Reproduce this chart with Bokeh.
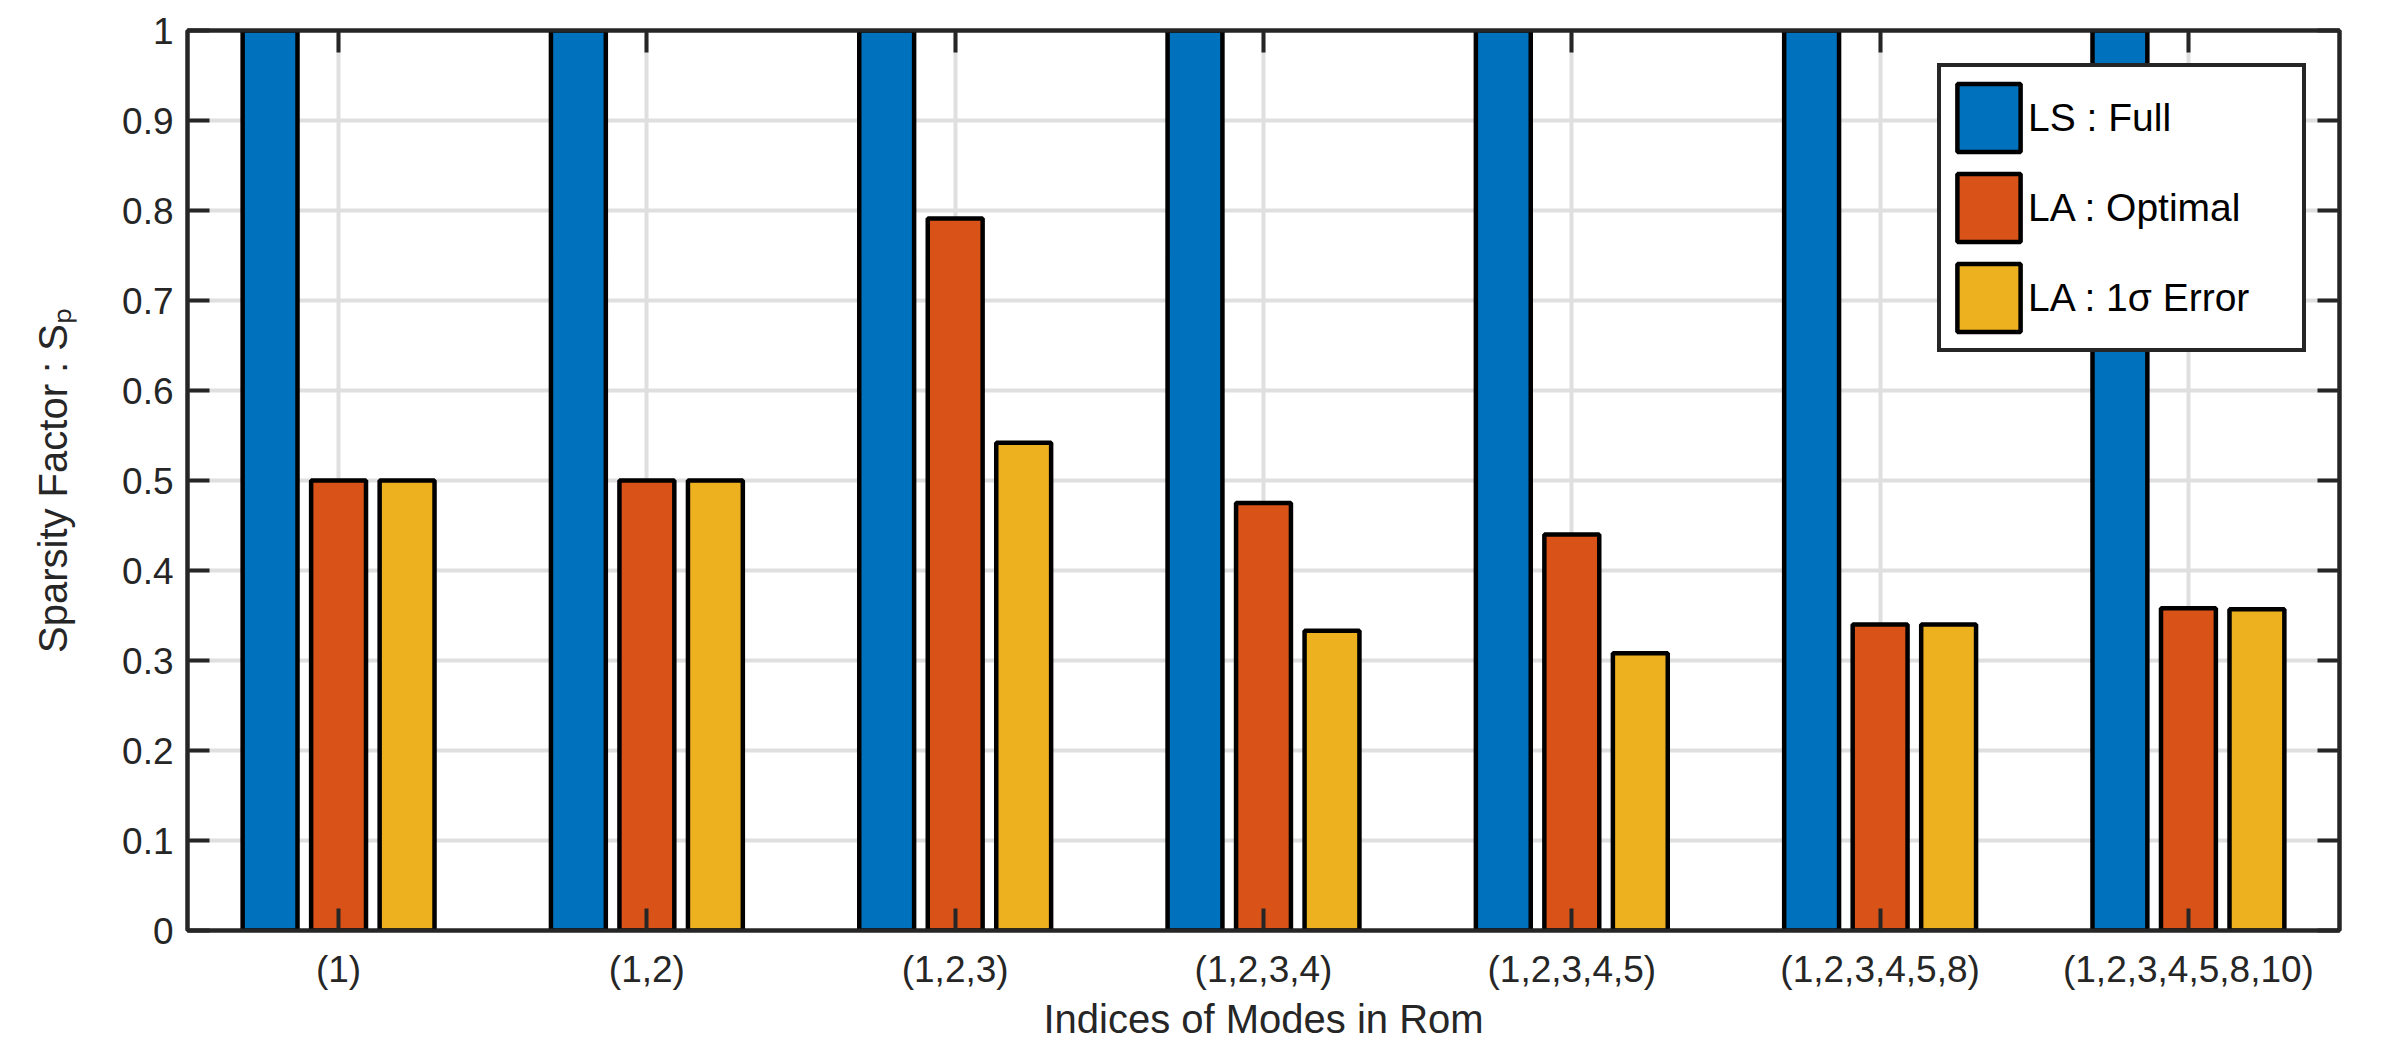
from bokeh.plotting import figure
from bokeh.models import (ColumnDataSource, FixedTicker, LinearAxis, Range1d,
                          Legend, LegendItem)
from bokeh.transform import dodge
from bokeh.embed import file_html
from bokeh.resources import INLINE

# ---------------- data ----------------
categories = ["(1)", "(1,2)", "(1,2,3)", "(1,2,3,4)", "(1,2,3,4,5)",
              "(1,2,3,4,5,8)", "(1,2,3,4,5,8,10)"]
group_index = [1, 2, 3, 4, 5, 6, 7]
ls_full = [1.0, 1.0, 1.0, 1.0, 1.0, 1.0, 1.0]
la_optimal = [0.500, 0.500, 0.791, 0.475, 0.440, 0.340, 0.358]
la_1sigma = [0.500, 0.500, 0.542, 0.333, 0.308, 0.340, 0.357]
series_names = ["LS : Full", "LA : Optimal", "LA : 1\u03c3 Error"]
y_ticks = [0, 0.1, 0.2, 0.3, 0.4, 0.5, 0.6, 0.7, 0.8, 0.9, 1.0]
y_tick_labels = ["0", "0.1", "0.2", "0.3", "0.4", "0.5", "0.6", "0.7", "0.8", "0.9", "1"]
x_label = "Indices of Modes in Rom"
y_label = "Sparsity Factor : S\u209a"

# ---------------- style ----------------
colors = ["#0072BD", "#D95319", "#EDB120"]
axis_col = "#262626"
grid_col = "#dfdfdf"
FONT = "Liberation Sans"

src = ColumnDataSource(dict(idx=group_index, ls=ls_full, opt=la_optimal, sig=la_1sigma))

p = figure(width=2379, height=1048, output_backend="svg", toolbar_location=None,
           x_range=Range1d(0.51, 7.49), y_range=Range1d(0, 1),
           min_border_left=187, min_border_top=30, min_border_right=40,
           min_border_bottom=118, x_axis_location=None, y_axis_location=None)
p.background_fill_color = "white"
p.border_fill_color = "white"
p.outline_line_color = axis_col
p.outline_line_width = 4

# grids
p.xgrid.ticker = FixedTicker(ticks=group_index)
p.ygrid.ticker = FixedTicker(ticks=y_ticks)
for g in (p.xgrid, p.ygrid):
    g.grid_line_color = grid_col
    g.grid_line_width = 4

def style_axis(ax):
    ax.axis_line_color = axis_col
    ax.axis_line_width = 4
    ax.major_tick_line_color = axis_col
    ax.major_tick_line_width = 4
    ax.major_tick_in = 22
    ax.major_tick_out = 0
    ax.minor_tick_line_color = None
    ax.major_label_text_color = axis_col
    ax.major_label_text_font = FONT
    ax.major_label_text_font_size = "37px"
    ax.axis_label_text_font = FONT
    ax.axis_label_text_font_style = "normal"
    ax.axis_label_text_color = axis_col
    ax.axis_label_text_font_size = "40px"

xlabels = {i: c for i, c in zip(group_index, categories)}
ylabels = {t: l for t, l in zip(y_ticks, y_tick_labels)}

xb = LinearAxis(ticker=FixedTicker(ticks=group_index), major_label_overrides=xlabels,
                axis_label=x_label)
style_axis(xb)
xb.major_label_standoff = 18
xb.axis_label_standoff = 4
p.add_layout(xb, "below")

yl = LinearAxis(ticker=FixedTicker(ticks=y_ticks), major_label_overrides=ylabels,
                axis_label=y_label)
style_axis(yl)
yl.major_label_standoff = 14
yl.axis_label_standoff = 44
p.add_layout(yl, "left")

# box-side tick axes without labels
xt = LinearAxis(ticker=FixedTicker(ticks=group_index),
                major_label_overrides={i: "" for i in group_index})
style_axis(xt)
xt.major_label_standoff = 0
p.add_layout(xt, "above")

yr = LinearAxis(ticker=FixedTicker(ticks=y_ticks),
                major_label_overrides={t: "" for t in y_ticks})
style_axis(yr)
yr.major_label_standoff = 0
p.add_layout(yr, "right")

# bars
offset = 0.2222
bw = 0.178
r1 = p.vbar(x=dodge("idx", -offset, range=p.x_range), top="ls", width=bw, source=src,
            fill_color=colors[0], line_color="black", line_width=4.5)
r2 = p.vbar(x=dodge("idx", 0.0, range=p.x_range), top="opt", width=bw, source=src,
            fill_color=colors[1], line_color="black", line_width=4.5)
r3 = p.vbar(x=dodge("idx", offset, range=p.x_range), top="sig", width=bw, source=src,
            fill_color=colors[2], line_color="black", line_width=4.5)

legend = Legend(items=[LegendItem(label=series_names[0], renderers=[r1]),
                       LegendItem(label=series_names[1], renderers=[r2]),
                       LegendItem(label=series_names[2], renderers=[r3])],
                location=(1750, 578))
legend.glyph_width = 79
legend.glyph_height = 85
legend.spacing = 5
legend.padding = 8
legend.margin = 0
legend.label_standoff = 0
legend.label_width = 266
legend.label_text_font = FONT
legend.label_text_font_size = "39px"
legend.label_text_color = "black"
legend.border_line_color = axis_col
legend.border_line_alpha = 1.0
legend.border_line_width = 4
legend.background_fill_color = "white"
legend.background_fill_alpha = 1.0
p.add_layout(legend)

open("out.html", "w").write(file_html(p, INLINE))
